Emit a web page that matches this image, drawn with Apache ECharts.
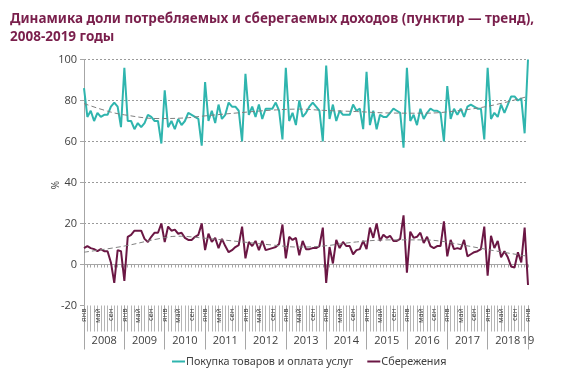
<!DOCTYPE html>
<html><head><meta charset="utf-8">
<script src="https://cdn.jsdelivr.net/npm/echarts@6/dist/echarts.min.js"></script>
<style>html,body{margin:0;padding:0;background:#fff}#c{width:561px;height:384px}</style>
</head><body><div id="c"></div>
<script>
const years = ['2008','2009','2010','2011','2012','2013','2014','2015','2016','2017','2018'];
const lastYearLabel = '19';
const monthLabels = ['янв','','','','май','','','','сен','','',''];
const yTicks = { min: -20, max: 100, interval: 20 };

const consumption = [
  86,72,75,70,74,72,73,73,77,79,77,67,
  96,70,70,66,69,67,69,73,72,70,70,59,
  85,67,70,66,71,68,70,74,73,72,71,58,
  89,70,75,69,78,71,73,79,77,77,75,60,
  93,73,77,72,78,71,76,76,76,79,75,61,
  96,70,74,68,80,72,74,77,79,77,75,60,
  97,71,78,70,75,73,73,73,78,75,76,66,
  94,68,75,66,73,72,72,74,76,75,74,57,
  96,70,73,68,76,71,74,76,75,75,74,60,
  87,71,76,73,76,72,77,78,77,76,76,61,
  96,71,74,72,78,74,78,82,82,80,81,64,
  100
];
const savings = [
  8,9,8,7.5,6.5,7.5,6.5,6.5,1,-9,7,6.5,
  -8,13.5,14.5,16.5,16.5,16.5,12.5,11,13.5,15.5,15.5,20,
  11,18.5,16.5,17,15,15.5,13,12,12,13.5,14.5,20,
  7,15,11,13,8,12.5,9,6,7,8.5,9.5,18.5,
  3,11,9,11.5,7,11.5,7,7.5,8,8.5,10,19.5,
  3,13.5,12,13,4.5,11.5,7.5,7.5,8,8,9,18,
  -9,8.5,0.5,12,8,11,9,9,5,7,7.5,11.5,
  7.5,18,13,20,11.5,14.5,13,14,11.5,11.5,12.5,24,
  -4,16,13,13.5,15.5,10.5,13.5,9,8,9,9,21,
  4,12,7.5,8,7.5,12,4,5,6,6.5,7.5,18.5,
  -5.5,14,8,11.5,3.5,6.5,3.5,-1,-1.5,6,1,18,
  -10
];
// trend lines: [month index, value] read at key points
const consumptionTrend = [[0,78.5],[7,74.8],[12,73],[22,71.2],[30,71.5],[36,72.5],[46,74],[56,75.3],[64,75.8],[71,75.2],[81,74.6],[91,73.9],[101,73.8],[111,75],[121,77.5],[132,82]];
const savingsTrend = [[0,6],[12,9],[22,12.5],[28,13.8],[36,12.8],[46,11.2],[56,9.5],[64,8.5],[71,9],[81,11],[91,12],[101,12],[106,11.4],[111,10],[121,7],[132,4]];

const seriesNames = ['Покупка товаров и оплата услуг', 'Сбережения'];
const colors = ['#2fb5ae', '#6b1744'];

const categories = [];
years.forEach(y => { for (let m = 0; m < 12; m++) categories.push(y + '-' + (m + 1)); });
categories.push('2019-1');

const chart = echarts.init(document.getElementById('c'));
const txt = '#404040';
const axisGray = '#a6a6a6';
chart.setOption({
  animation: false,
  title: {
    text: 'Динамика доли потребляемых и сберегаемых доходов (пунктир — тренд),\n2008-2019 годы',
    left: 5, top: 5,
    textStyle: { fontFamily: 'Noto Sans', fontWeight: 'bold', fontSize: 13.5, color: '#7a1f4c', lineHeight: 18 }
  },
  grid: { left: 84, right: 33, top: 59.5, bottom: 78.5, containLabel: false },
  legend: {
    data: seriesNames, bottom: 12, left: 167,
    icon: 'rect', itemWidth: 13, itemHeight: 2, itemGap: 14,
    textStyle: { fontFamily: 'Noto Sans', fontSize: 10.8, color: txt, padding: [0,0,0,-4] }
  },
  xAxis: [
    { type: 'category', data: categories, boundaryGap: false,
      axisLine: { onZero: true, lineStyle: { color: axisGray, width: 1 } },
      axisTick: { show: true, interval: 0, length: 3, lineStyle: { color: axisGray } },
      axisLabel: { show: false }, splitLine: { show: false } },
    { type: 'category', data: categories, boundaryGap: false, position: 'bottom',
      axisLine: { show: false, onZero: false },
      axisTick: { show: true, interval: 0, length: 26, lineStyle: { color: '#b5b5b5' } },
      axisLabel: { interval: (i) => monthLabels[i % 12] !== '', rotate: 90, margin: 3,
        fontFamily: 'Open Sans', fontSize: 7.5, color: '#333', 
        formatter: (v, i) => monthLabels[i % 12] } },
    { type: 'category', data: categories, boundaryGap: false, position: 'bottom',
      axisLine: { show: false, onZero: false },
      axisTick: { show: true, interval: (i) => i % 12 === 0, length: 44, lineStyle: { color: axisGray } },
      axisLabel: { interval: (i) => i % 12 === 6 || i === 132, margin: 30,
        fontFamily: 'Open Sans', fontSize: 11, color: txt,
        formatter: (v, i) => i === 132 ? lastYearLabel : (i % 12 === 6 ? years[Math.floor(i / 12)] : '') } }
  ],
  yAxis: {
    type: 'value', min: yTicks.min, max: yTicks.max, interval: yTicks.interval,
    axisLine: { show: true, lineStyle: { color: axisGray } },
    axisTick: { show: true, length: 4, lineStyle: { color: axisGray } },
    axisLabel: { fontFamily: 'Open Sans', fontSize: 11, color: txt, margin: 7 },
    splitLine: { show: true, showMinLine: false, lineStyle: { color: '#9a9a9a', type: [2, 2], width: 1 } }
  },
  graphic: [{ type: 'text', left: 51, top: 181, rotation: Math.PI / 2,
    style: { text: '%', fontFamily: 'Open Sans', fontSize: 10, fill: txt } }],
  series: [
    { name: seriesNames[0], type: 'line', data: consumption, symbol: 'none', xAxisIndex: 0,
      lineStyle: { color: colors[0], width: 2 }, itemStyle: { color: colors[0] } },
    { name: seriesNames[1], type: 'line', data: savings, symbol: 'none', xAxisIndex: 0,
      lineStyle: { color: colors[1], width: 2 }, itemStyle: { color: colors[1] } },
    { name: 'trend1', type: 'line', data: consumptionTrend, symbol: 'none', smooth: 0.4, xAxisIndex: 0,
      lineStyle: { color: '#7f7f7f', width: 1, type: [5, 3] } },
    { name: 'trend2', type: 'line', data: savingsTrend, symbol: 'none', smooth: 0.4, xAxisIndex: 0,
      lineStyle: { color: '#7f7f7f', width: 1, type: [5, 3] } }
  ]
});
</script></body></html>
